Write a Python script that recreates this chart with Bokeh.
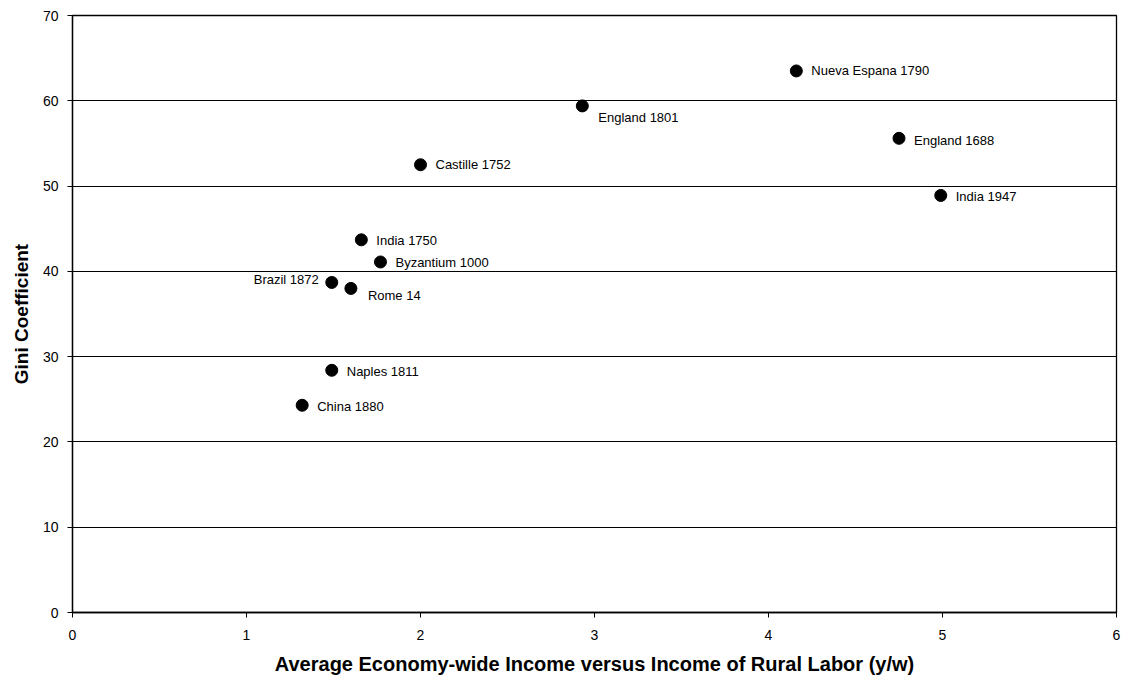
from bokeh.plotting import figure
from bokeh.models import ColumnDataSource, FixedTicker, LabelSet, Range1d
from bokeh.core.properties import value
from bokeh.embed import file_html
from bokeh.resources import INLINE

# Data
labels = ["Nueva Espana 1790", "England 1801", "England 1688", "India 1947",
          "Castille 1752", "India 1750", "Byzantium 1000", "Brazil 1872",
          "Rome 14", "Naples 1811", "China 1880"]
income_ratio = [4.16, 2.93, 4.75, 4.99, 2.0, 1.66, 1.77, 1.49, 1.60, 1.49, 1.32]
gini = [63.5, 59.4, 55.6, 48.9, 52.5, 43.7, 41.1, 38.7, 38.0, 28.4, 24.3]
x_ticks = [0, 1, 2, 3, 4, 5, 6]
y_ticks = [0, 10, 20, 30, 40, 50, 60, 70]

# label placement (style)
dx = [15, 16, 15, 15, 15, 15, 15, -13, 17, 15, 15]
dy = [0, -12, -2, -1, 0, -1, -1, 3, -7, -1, -1]
align = ["left"] * 7 + ["right"] + ["left"] * 3

FONT = "Liberation Sans"

p = figure(width=1127, height=685, output_backend="svg", toolbar_location=None,
           x_range=Range1d(0, 6), y_range=Range1d(0, 70),
           min_border_left=72, min_border_right=11, min_border_top=15, min_border_bottom=73)
p.background_fill_color = "white"
p.border_fill_color = "white"
p.outline_line_color = "black"
p.outline_line_width = 1.3

src = ColumnDataSource(dict(x=income_ratio, y=gini, label=labels, dx=dx, dy=dy, align=align))
p.scatter("x", "y", source=src, size=12, color="black")

ls = LabelSet(x="x", y="y", text="label", x_offset="dx", y_offset="dy", text_align="align",
              text_baseline="middle", source=src, text_font=value(FONT),
              text_font_size=value("13px"), text_color="black")
p.add_layout(ls)

p.xgrid.grid_line_color = None
p.ygrid.grid_line_color = "black"
p.ygrid.grid_line_width = 1
p.ygrid.ticker = FixedTicker(ticks=y_ticks)

p.xaxis.ticker = FixedTicker(ticks=x_ticks)
p.yaxis.ticker = FixedTicker(ticks=y_ticks)
for ax in (p.xaxis, p.yaxis):
    ax.axis_line_color = "black"
    ax.axis_line_width = 1.3
    ax.major_tick_line_color = "black"
    ax.major_tick_in = 0
    ax.major_tick_out = 5
    ax.minor_tick_line_color = None
    ax.major_label_text_font = FONT
    ax.major_label_text_font_size = "14px"
    ax.major_label_text_color = "black"
    ax.axis_label_text_font = FONT
    ax.axis_label_text_font_style = "bold"
    ax.axis_label_text_color = "black"

p.xaxis.axis_label = "Average Economy-wide Income versus Income of Rural Labor (y/w)"
p.yaxis.axis_label = "Gini Coefficient"
p.xaxis.axis_label_text_font_size = "20px"
p.yaxis.axis_label_text_font_size = "19px"
p.xaxis.major_label_standoff = 12
p.xaxis.axis_label_standoff = 10
p.yaxis.major_label_standoff = 9
p.yaxis.axis_label_standoff = 8

open("out.html", "w").write(file_html(p, INLINE))
